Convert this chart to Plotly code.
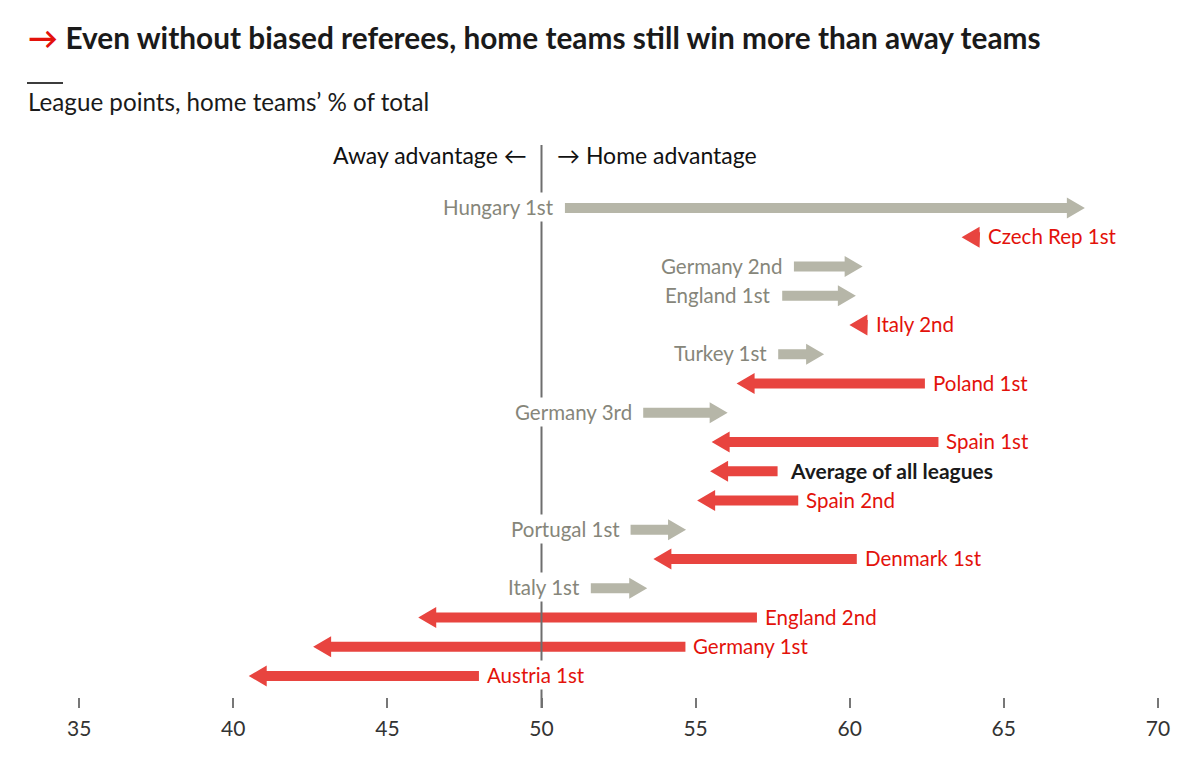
import plotly.graph_objects as go

# ---------------- data ----------------
leagues = ["Hungary 1st", "Czech Rep 1st", "Germany 2nd", "England 1st", "Italy 2nd",
           "Turkey 1st", "Poland 1st", "Germany 3rd", "Spain 1st", "Average of all leagues",
           "Spain 2nd", "Portugal 1st", "Denmark 1st", "Italy 1st", "England 2nd",
           "Germany 1st", "Austria 1st"]
before = [50.76, 64.23, 58.19, 57.81, 60.59, 57.68, 62.44, 53.30, 62.88, 57.66,
          58.33, 52.89, 60.23, 51.60, 56.99, 54.67, 47.97]
after = [67.63, 63.63, 60.42, 60.20, 59.99, 59.17, 56.33, 56.04, 55.52, 55.47,
         55.05, 54.69, 53.63, 53.43, 46.00, 42.59, 40.50]
x_ticks = [35, 40, 45, 50, 55, 60, 65, 70]

# ---------------- layout constants ----------------
W, H = 1200, 762
ML, MR, MT, MB = 20, 20, 140, 65
XMIN, XMAX = 33.079, 70.717
YTOP, YBOT = -2.325, 16.718
plot_w = W - ML - MR
plot_h = H - MT - MB
px_x = (XMAX - XMIN) / plot_w      # data units per pixel (x)
px_y = (YBOT - YTOP) / plot_h      # data units per pixel (y)


def px_to_paper_x(px):
    return (px - ML) / plot_w


def px_to_paper_y(py):
    return (H - MB - py) / plot_h


GREY_ARROW = "#b6b6a8"
GREY_TEXT = "#86867a"
RED_ARROW = "#e8443f"
RED_TEXT = "#e3120b"
FONT = "Lato"
LABEL_SIZE = 20.5

HEAD_LEN = 18 * px_x
SHAFT_HALF = 5 * px_y
HEAD_HALF = 10.5 * px_y

fig = go.Figure()

annotations = []
for i, (name, s, e) in enumerate(zip(leagues, before, after)):
    y = i
    d = 1 if e >= s else -1
    neck = e - d * HEAD_LEN
    if d * (neck - s) <= 0:
        neck = s
        xs = [neck, e, neck, neck]
        ys = [y - HEAD_HALF, y, y + HEAD_HALF, y - HEAD_HALF]
    else:
        xs = [s, neck, neck, e, neck, neck, s, s]
        ys = [y - SHAFT_HALF, y - SHAFT_HALF, y - HEAD_HALF, y, y + HEAD_HALF,
              y + SHAFT_HALF, y + SHAFT_HALF, y - SHAFT_HALF]
    col = GREY_ARROW if d > 0 else RED_ARROW
    fig.add_trace(go.Scatter(x=xs, y=ys, mode="lines", fill="toself", fillcolor=col,
                             line=dict(width=0, color=col), hoverinfo="skip",
                             showlegend=False))
    if name.startswith("Average"):
        annotations.append(dict(x=s, y=y, xref="x", yref="y", text="<b>" + name + "</b>",
                                showarrow=False, xanchor="left", yanchor="middle",
                                xshift=9, yshift=1,
                                font=dict(family=FONT, size=21, color="#1a1a1a"),
                                bgcolor="white", borderpad=2))
    elif d > 0:
        annotations.append(dict(x=s, y=y, xref="x", yref="y", text=name,
                                showarrow=False, xanchor="right", yanchor="middle",
                                xshift=-8, yshift=1,
                                font=dict(family=FONT, size=LABEL_SIZE, color=GREY_TEXT),
                                bgcolor="white", borderpad=2))
    else:
        annotations.append(dict(x=s, y=y, xref="x", yref="y", text=name,
                                showarrow=False, xanchor="left", yanchor="middle",
                                xshift=5, yshift=1,
                                font=dict(family=FONT, size=LABEL_SIZE, color=RED_TEXT),
                                bgcolor="white", borderpad=2))

# header texts around the 50 line
annotations.append(dict(x=50, y=px_to_paper_y(155), xref="x", yref="paper",
                        text="Away advantage \u2190",
                        showarrow=False, xanchor="right", yanchor="middle", xshift=-13,
                        font=dict(family=FONT, size=23, color="#111111")))
annotations.append(dict(x=50, y=px_to_paper_y(155), xref="x", yref="paper",
                        text="\u2192 Home advantage",
                        showarrow=False, xanchor="left", yanchor="middle", xshift=13,
                        font=dict(family=FONT, size=23, color="#111111")))

# title & subtitle
annotations.append(dict(x=px_to_paper_x(26), y=px_to_paper_y(37), xref="paper", yref="paper",
                        text="<span style='color:#e3120b'><b>\u2192</b></span> <b>Even without biased referees, home teams still win more than away teams</b>",
                        showarrow=False, xanchor="left", yanchor="middle",
                        font=dict(family=FONT, size=29.8, color="#1a1a1a")))
annotations.append(dict(x=px_to_paper_x(26), y=px_to_paper_y(102), xref="paper", yref="paper",
                        text="League points, home teams\u2019 % of total",
                        showarrow=False, xanchor="left", yanchor="middle",
                        font=dict(family=FONT, size=24.2, color="#1a1a1a")))

shapes = [
    # vertical 50 line
    dict(type="line", xref="x", yref="paper", x0=50, x1=50,
         y0=px_to_paper_y(708), y1=px_to_paper_y(145),
         line=dict(color="#6e6e6e", width=2), layer="above"),
    # short rule above subtitle
    dict(type="line", xref="paper", yref="paper",
         x0=px_to_paper_x(27), x1=px_to_paper_x(63),
         y0=px_to_paper_y(83), y1=px_to_paper_y(83),
         line=dict(color="#3c3c3c", width=2)),
]

fig.update_layout(
    width=W, height=H,
    margin=dict(l=ML, r=MR, t=MT, b=MB),
    paper_bgcolor="white", plot_bgcolor="white",
    xaxis=dict(range=[XMIN, XMAX], tickvals=x_ticks, ticktext=[str(t) for t in x_ticks],
               ticks="outside", ticklen=10, tickwidth=2, tickcolor="#777777",
               ticklabelstandoff=3,
               showgrid=False, zeroline=False, showline=False,
               tickfont=dict(family=FONT, size=21, color="#333333"), fixedrange=True),
    yaxis=dict(range=[YBOT, YTOP], visible=False, fixedrange=True),
    annotations=annotations,
    shapes=shapes,
    showlegend=False,
)

fig.write_html("out.html")
